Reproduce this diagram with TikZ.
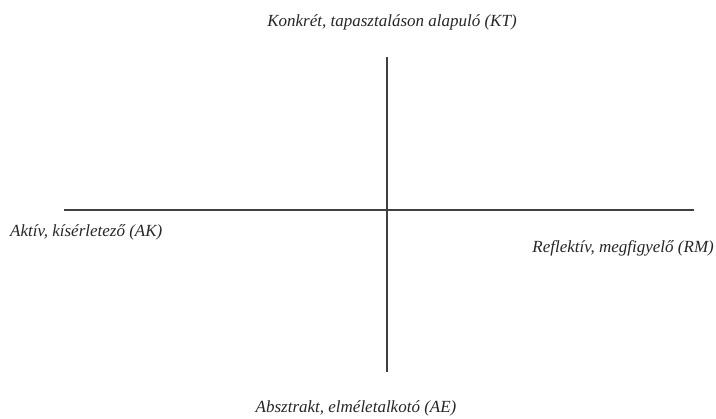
\documentclass[tikz,border=0pt]{standalone}
\usepackage{fontspec}
\setmainfont{Liberation Serif}
\usepackage{tikz}
\usetikzlibrary{positioning}

\begin{document}
\begin{tikzpicture}[
    x=1pt, y=-1pt,
    label/.style={
        font=\fontsize{17}{19}\selectfont\itshape,
        text=black!85,
        inner sep=0pt
    },
    axis/.style={draw=black!75, line width=1.3pt}
]
\useasboundingbox (0,0) rectangle (716,419);

\coordinate (top) at (387,57);
\coordinate (bottom) at (387,372);
\coordinate (left) at (64,210);
\coordinate (right) at (694,210);

\node[label] (kt) at (392,22) {Konkrét, tapasztaláson alapuló (KT)};
\node[label, anchor=west] (ak) at (10,232) {Aktív, kísérletező (AK)};
\node[label, anchor=east] (rm) at (714,248) {Reflektív, megfigyelő (RM)};
\node[label] (ae) at (356,408) {Absztrakt, elméletalkotó (AE)};

\draw[axis] (top) -- (bottom);
\draw[axis] (left) -- (right);
\end{tikzpicture}
\end{document}
